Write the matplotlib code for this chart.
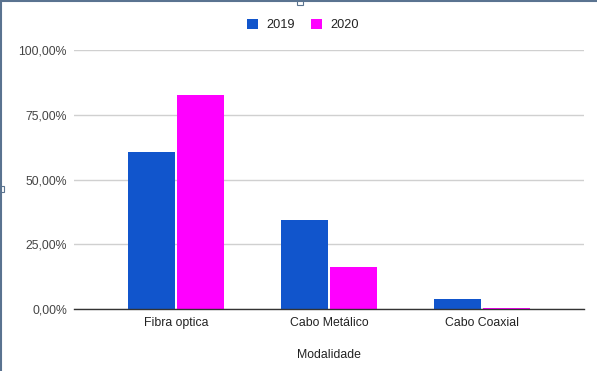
import matplotlib.pyplot as plt
import numpy as np
from matplotlib.patches import Rectangle

categorias = ['Fibra optica', 'Cabo Metálico', 'Cabo Coaxial']
anos = ['2019', '2020']
valores_2019 = [60.6, 34.4, 3.9]
valores_2020 = [82.6, 16.2, 0.4]
yticks = [0, 25, 50, 75, 100]
ytick_labels = ['0,00%', '25,00%', '50,00%', '75,00%', '100,00%']

azul = '#1155cc'
magenta = '#ff00ff'

plt.rcParams['font.family'] = ['Liberation Sans', 'DejaVu Sans']

fig = plt.figure(figsize=(5.97, 3.71), dpi=100)
ax = fig.add_axes([74/597, 1 - 309/371, 510/597, 259/371])

x = np.arange(len(categorias))
w = 0.307
ax.bar(x - w/2 - 0.006, valores_2019, w, color=azul, label=anos[0], zorder=3)
ax.bar(x + w/2 + 0.006, valores_2020, w, color=magenta, label=anos[1], zorder=3)

ax.set_xlim(-0.667, 2.667)
ax.set_ylim(0, 100)
ax.set_yticks(yticks)
ax.set_yticklabels(ytick_labels, fontsize=8.8, color='#444444')
ax.set_xticks(x)
ax.set_xticklabels(categorias, fontsize=8.8, color='#222222')
ax.tick_params(axis='y', length=0, pad=5)
ax.tick_params(axis='x', length=0, pad=6)
ax.grid(axis='y', color='#d0d0d0', linewidth=1, zorder=0)
for s in ['top', 'right', 'left']:
    ax.spines[s].set_visible(False)
ax.spines['bottom'].set_color('#333333')
ax.spines['bottom'].set_linewidth(1)
ax.spines['bottom'].set_zorder(4)
ax.set_xlabel('Modalidade', fontsize=8.8, color='#222222', labelpad=14)

leg = fig.legend(loc='center', bbox_to_anchor=(303/597, 1 - 25/371), ncol=2,
                 frameon=False, fontsize=9.2, handlelength=0.85, handleheight=0.9,
                 handletextpad=0.65, columnspacing=1.3)
for t in leg.get_texts():
    t.set_color('#222222')

# selection frame of the chart
fig.add_artist(plt.Line2D([0, 1], [0.998, 0.998], color='#5a7390', lw=1.5, transform=fig.transFigure))
fig.add_artist(plt.Line2D([0.001, 0.001], [0, 1], color='#5a7390', lw=1.5, transform=fig.transFigure))
fig.add_artist(Rectangle((0, 1 - 192/371), 4/597, 6/371, facecolor='white', edgecolor='#5a7390', lw=0.8, transform=fig.transFigure))
fig.add_artist(Rectangle((297/597, 1 - 5/371), 6/597, 5/371, facecolor='white', edgecolor='#5a7390', lw=0.8, transform=fig.transFigure))

fig.savefig('out.png', dpi=100)
